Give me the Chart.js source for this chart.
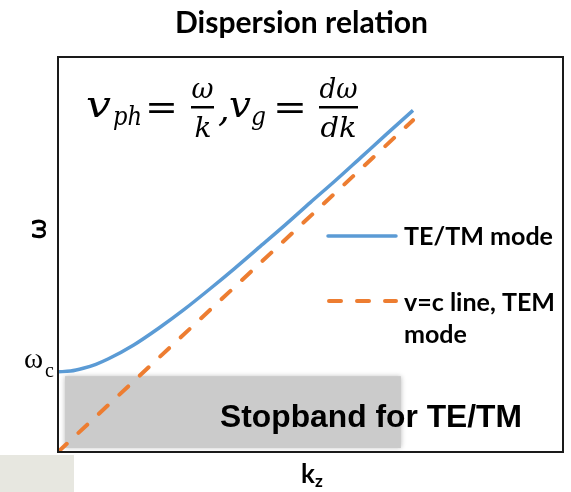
<!DOCTYPE html>
<html>
<head>
<meta charset="utf-8">
<script src="https://cdn.jsdelivr.net/npm/chart.js@4/dist/chart.umd.min.js"></script>
<style>
  html, body { margin: 0; padding: 0; background: #ffffff; }
  #wrap { width: 571px; height: 492px; position: relative; }
  canvas { display: block; }
</style>
</head>
<body>
<div id="wrap"><canvas id="c" width="571" height="492"></canvas></div>
<script>
// ---- Data ----
const chartTitle = "Dispersion relation";
const xAxisLabel = "k";
const xAxisSub = "z";
const yAxisLabel = "ω";
const cutoffLabel = "ω";
const cutoffSub = "c";
const seriesNames = ["TE/TM mode", "v=c line, TEM", "mode"];
const stopbandLabel = "Stopband for TE/TM";

// TE/TM mode dispersion curve (k_z, omega)
const teTmK     = [0, 0.25, 0.5, 0.75, 1, 1.5, 2, 2.5, 3, 3.5, 4, 4.5, 5, 5.5, 6, 6.5, 7.03];
const teTmOmega = [2.03, 2.05, 2.12, 2.22, 2.36, 2.71, 3.14, 3.61, 4.12, 4.65, 5.20, 5.75, 6.32, 6.88, 7.46, 8.04, 8.65];
// v = c light line (TEM)
const temK      = [0, 7.03];
const temOmega  = [0, 8.40];
// Stopband region below cutoff
const stopbandK     = [0.14, 6.79];
const stopbandOmega = [0.10, 1.92];
// Axis ranges
const axisMin = [0, 0];
const axisMax = [10, 10];

const blue = "#5B9BD5";
const orange = "#ED7D31";

function fitText(ctx, text, x, baseline, font, targetW, align) {
  ctx.save();
  ctx.font = font;
  const w = ctx.measureText(text).width;
  const s = targetW ? targetW / w : 1;
  ctx.translate(x, baseline);
  ctx.scale(s, 1);
  ctx.textBaseline = "alphabetic";
  ctx.textAlign = align || "left";
  ctx.fillText(text, 0, 0);
  ctx.restore();
  return s;
}

const decorPlugin = {
  id: "decor",
  beforeDatasetsDraw(chart) {
    const ctx = chart.ctx;
    const xs = chart.scales.x, ys = chart.scales.y;
    const x0 = xs.getPixelForValue(stopbandK[0]);
    const x1 = xs.getPixelForValue(stopbandK[1]);
    const y0 = ys.getPixelForValue(stopbandOmega[1]);
    const y1 = ys.getPixelForValue(stopbandOmega[0]);
    ctx.save();
    ctx.shadowColor = "rgba(0,0,0,0.28)";
    ctx.shadowBlur = 5;
    ctx.fillStyle = "#cbcbcb";
    ctx.fillRect(x0, y0, x1 - x0, y1 - y0);
    ctx.restore();
  },
  afterDatasetsDraw(chart) {
    const ctx = chart.ctx;
    const a = chart.chartArea;
    ctx.save();
    ctx.strokeStyle = "#1a1a1a";
    ctx.lineWidth = 2;
    ctx.strokeRect(a.left, a.top, a.right - a.left, a.bottom - a.top);

    ctx.fillStyle = "#000";
    fitText(ctx, chartTitle, 175, 33, "bold 30px Lato", 253, "left");
    fitText(ctx, stopbandLabel, 220, 427, "bold 32px 'Liberation Sans'", 302, "left");

    // formula v_ph = ω/k , v_g = dω/dk
    const serifI = "italic 37px 'DejaVu Serif'";
    const serifIs = "italic 26px 'DejaVu Serif'";
    const serifF = "italic 28px 'DejaVu Serif'";
    fitText(ctx, "v", 86, 117, serifI, 25, "left");
    fitText(ctx, "ph", 113, 125, serifIs, 29, "left");
    fitText(ctx, "=", 145, 119, "36px 'DejaVu Serif'", 33, "left");
    fitText(ctx, "ω", 202.5, 98, serifF, 22, "center");
    fitText(ctx, "k", 203, 137, serifF, 0, "center");
    ctx.fillRect(191, 106, 23, 2.5);
    fitText(ctx, ",", 218, 121, serifI, 0, "left");
    fitText(ctx, "v", 229, 117, serifI, 22, "left");
    fitText(ctx, "g", 251, 125, serifIs, 15, "left");
    fitText(ctx, "=", 273, 119, "36px 'DejaVu Serif'", 34, "left");
    fitText(ctx, "dω", 338.5, 98, serifF, 38, "center");
    fitText(ctx, "dk", 338.5, 137, serifF, 36, "center");
    ctx.fillRect(319, 106, 39, 2.5);

    // legend
    ctx.lineCap = "round";
    ctx.strokeStyle = blue;
    ctx.lineWidth = 3.5;
    ctx.beginPath(); ctx.moveTo(328, 236); ctx.lineTo(396, 236); ctx.stroke();
    ctx.strokeStyle = orange;
    ctx.lineWidth = 4;
    ctx.setLineDash([12, 16]);
    ctx.beginPath(); ctx.moveTo(329, 301); ctx.lineTo(396, 301); ctx.stroke();
    ctx.setLineDash([]);
    ctx.fillStyle = "#000";
    fitText(ctx, seriesNames[0], 404, 245, "bold 25px Lato", 149, "left");
    const s = fitText(ctx, seriesNames[1], 404, 311, "bold 25px Lato", 151, "left");
    ctx.save();
    ctx.font = "bold 25px Lato";
    ctx.translate(404, 343); ctx.scale(s, 1);
    ctx.fillText(seriesNames[2], 0, 0);
    ctx.restore();

    // y axis label (rotated ω)
    ctx.save();
    ctx.translate(38, 229);
    ctx.rotate(-Math.PI / 2);
    ctx.font = "bold 26px Lato";
    ctx.textAlign = "center";
    ctx.textBaseline = "middle";
    ctx.fillText(yAxisLabel, 0, 0);
    ctx.restore();

    // cutoff label ω_c
    ctx.font = "29px 'Liberation Serif'";
    ctx.textAlign = "left";
    ctx.textBaseline = "alphabetic";
    ctx.fillText(cutoffLabel, 24, 368);
    ctx.font = "20px 'Liberation Serif'";
    ctx.fillText(cutoffSub, 45, 377);

    // x axis label k_z
    ctx.font = "bold 26px Lato";
    ctx.fillText(xAxisLabel, 301, 483);
    ctx.font = "bold 17px Lato";
    ctx.fillText(xAxisSub, 315, 487);

    // light patch bottom-left
    ctx.fillStyle = "#e7e7e0";
    ctx.fillRect(0, 455, 74, 37);
    ctx.restore();
  }
};

new Chart(document.getElementById("c"), {
  type: "line",
  data: {
    datasets: [
      {
        label: seriesNames[0],
        data: teTmK.map((k, i) => ({ x: k, y: teTmOmega[i] })),
        borderColor: blue,
        borderWidth: 3.5,
        pointRadius: 0,
        cubicInterpolationMode: "monotone",
        fill: false
      },
      {
        label: seriesNames[1],
        data: temK.map((k, i) => ({ x: k, y: temOmega[i] })),
        borderColor: orange,
        borderWidth: 4,
        borderDash: [12, 16],
        borderCapStyle: "round",
        pointRadius: 0,
        fill: false
      }
    ]
  },
  options: {
    responsive: false,
    animation: false,
    events: [],
    layout: { padding: { left: 58, top: 57, right: 8, bottom: 40 } },
    plugins: { legend: { display: false }, title: { display: false }, tooltip: { enabled: false } },
    scales: {
      x: { type: "linear", min: axisMin[0], max: axisMax[0], display: false },
      y: { type: "linear", min: axisMin[1], max: axisMax[1], display: false }
    }
  },
  plugins: [decorPlugin]
});
</script>
</body>
</html>
